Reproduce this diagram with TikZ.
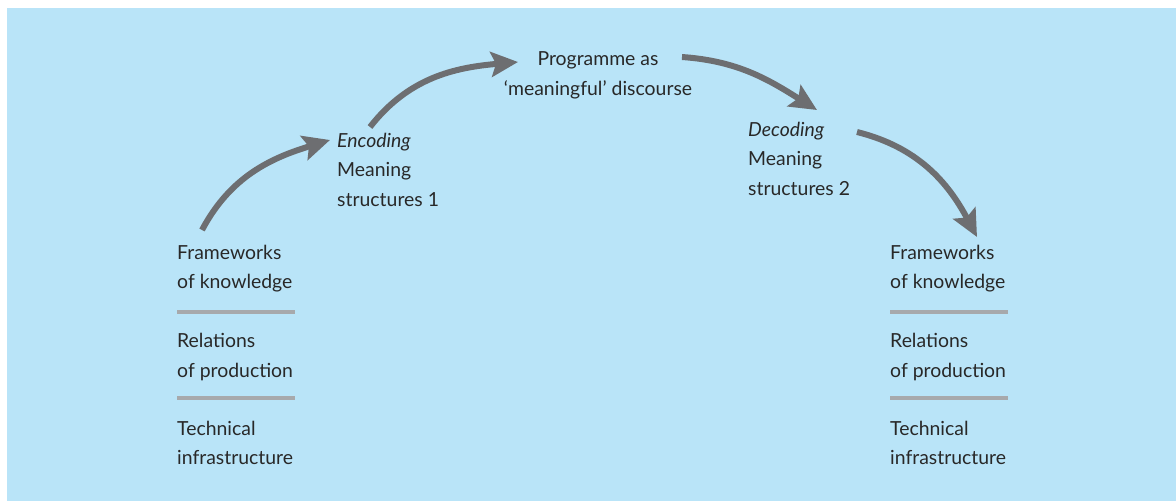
\documentclass[tikz,border=0pt]{standalone}
\usepackage{fontspec}
\setmainfont{Lato}
\usetikzlibrary{arrows.meta}
\definecolor{bgblue}{RGB}{185,228,248}
\definecolor{arrowgray}{RGB}{109,110,113}
\definecolor{rulegray}{RGB}{167,169,172}
\definecolor{textdark}{RGB}{40,40,40}
\begin{document}
\begin{tikzpicture}[x=1pt,y=-1pt,
  lbl/.style={anchor=base west, align=left, inner sep=0pt, text=textdark,
    font=\fontsize{19.4}{29.5}\selectfont},
  clbl/.style={lbl, anchor=base, align=center},
  flow/.style={draw=arrowgray, line width=6pt,
    -{Stealth[length=27pt,width=25pt,inset=5pt]}},
  seprule/.style={draw=rulegray, line width=4pt}]
\useasboundingbox (0,0) rectangle (1176,501);
\fill[bgblue] (7,8) rectangle (1176,501);

% left stack (anchor = baseline of the last line)
\node[lbl] (fk1) at (177,288.5) {Frameworks\\of knowledge};
\node[lbl] (rp1) at (177,377) {Relations\\of production};
\node[lbl] (ti1) at (177,464.5) {Technical\\infrastructure};
\draw[seprule] (177,312) -- (295,312);
\draw[seprule] (177,398) -- (295,398);

% right stack
\node[lbl] (fk2) at (890,288.5) {Frameworks\\of knowledge};
\node[lbl] (rp2) at (890,377) {Relations\\of production};
\node[lbl] (ti2) at (890,464.5) {Technical\\infrastructure};
\draw[seprule] (890,312) -- (1008,312);
\draw[seprule] (890,398) -- (1008,398);

% middle labels
\node[lbl] (enc) at (337,206) {\textit{Encoding}\\Meaning\\structures 1};
\node[clbl] (prog) at (598,95) {Programme as\\`meaningful' discourse};
\node[lbl] (dec) at (748,195) {\textit{Decoding}\\Meaning\\structures 2};

% arrows
\draw[flow] ([shift={(25,-58.5)}]fk1.base west) to[out=62,in=197] ([shift={(-7,-66)}]enc.base west);
\draw[flow] ([shift={(33,-79)}]enc.base west) to[out=52,in=185] ([shift={(-80,-33)}]prog.base);
\draw[flow] ([shift={(84,-38)}]prog.base) to[out=-4,in=148] ([shift={(69,-85)}]dec.base west);
\draw[flow] ([shift={(109,-63)}]dec.base west) to[out=-14,in=118] ([shift={(87,-51.5)}]fk2.base west);
\end{tikzpicture}
\end{document}
